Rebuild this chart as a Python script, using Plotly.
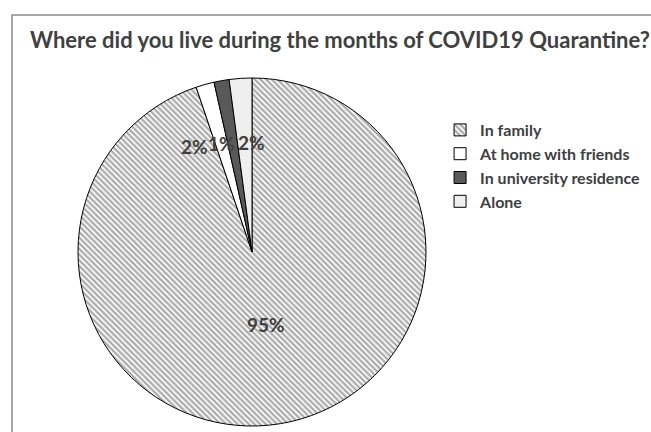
import math
import plotly.graph_objects as go

title_text = "Where did you live during the months of COVID19 Quarantine?"
categories = ["In family", "At home with friends", "In university residence", "Alone"]
values = [94.8, 1.7, 1.4, 2.1]

# styles
slice_colors = ["white", "white", "#595959", "#efefef"]
pattern_shapes = ["\\", "", "", ""]
label_radius = [0.5, 0.71, 0.71, 0.71]
label_xshift = [0, -24, -9, 8]

W, H = 651, 432
cx, cy, R = 252, 252, 174  # pixel center / radius of the pie

dom_x = [(cx - R) / W, (cx + R) / W]
dom_y = [(H - cy - R) / H, (H - cy + R) / H]

fig = go.Figure()
fig.add_trace(go.Pie(
    labels=categories,
    values=values,
    sort=False,
    direction="clockwise",
    rotation=0,
    textinfo="none",
    hoverinfo="label+percent",
    domain=dict(x=dom_x, y=dom_y),
    marker=dict(
        colors=slice_colors,
        line=dict(color="black", width=1),
        pattern=dict(shape=pattern_shapes, fgcolor="#555555", bgcolor="white",
                     size=4, solidity=0.55, fillmode="overlay"),
    ),
))

# percent labels placed at slice mid-angles computed from the data
total = sum(values)
cum = 0.0
annotations = []
for i, v in enumerate(values):
    mid = (cum + v / 2) / total * 2 * math.pi
    cum += v
    px = cx + label_radius[i] * R * math.sin(mid)
    py = cy - label_radius[i] * R * math.cos(mid)
    annotations.append(dict(
        x=px / W, y=1 - py / H, xref="paper", yref="paper",
        text=f"{round(v / total * 100)}%", showarrow=False,
        xshift=label_xshift[i],
        font=dict(family="Lato", size=19, color="#404040", weight="bold"),
    ))

fig.update_layout(
    width=W, height=H,
    margin=dict(l=0, r=0, t=0, b=0),
    paper_bgcolor="white",
    plot_bgcolor="white",
    title=dict(text=title_text, x=30 / W, xanchor="left", y=1 - 40 / H, yanchor="middle",
               font=dict(family="Lato", size=22, color="#404040", weight="bold")),
    legend=dict(x=0.676, y=1 - 113 / H, xanchor="left", yanchor="top",
                font=dict(family="Lato", size=16, color="#404040", weight="bold"),
                itemwidth=30, tracegroupgap=0, bgcolor="rgba(0,0,0,0)"),
    annotations=annotations,
    shapes=[dict(type="rect", xref="paper", yref="paper",
                 x0=12 / W, x1=1.02, y0=-0.02, y1=1 - 15 / H,
                 line=dict(color="#8a8a8a", width=1.5), fillcolor="rgba(0,0,0,0)")],
)

fig.write_html("out.html")
